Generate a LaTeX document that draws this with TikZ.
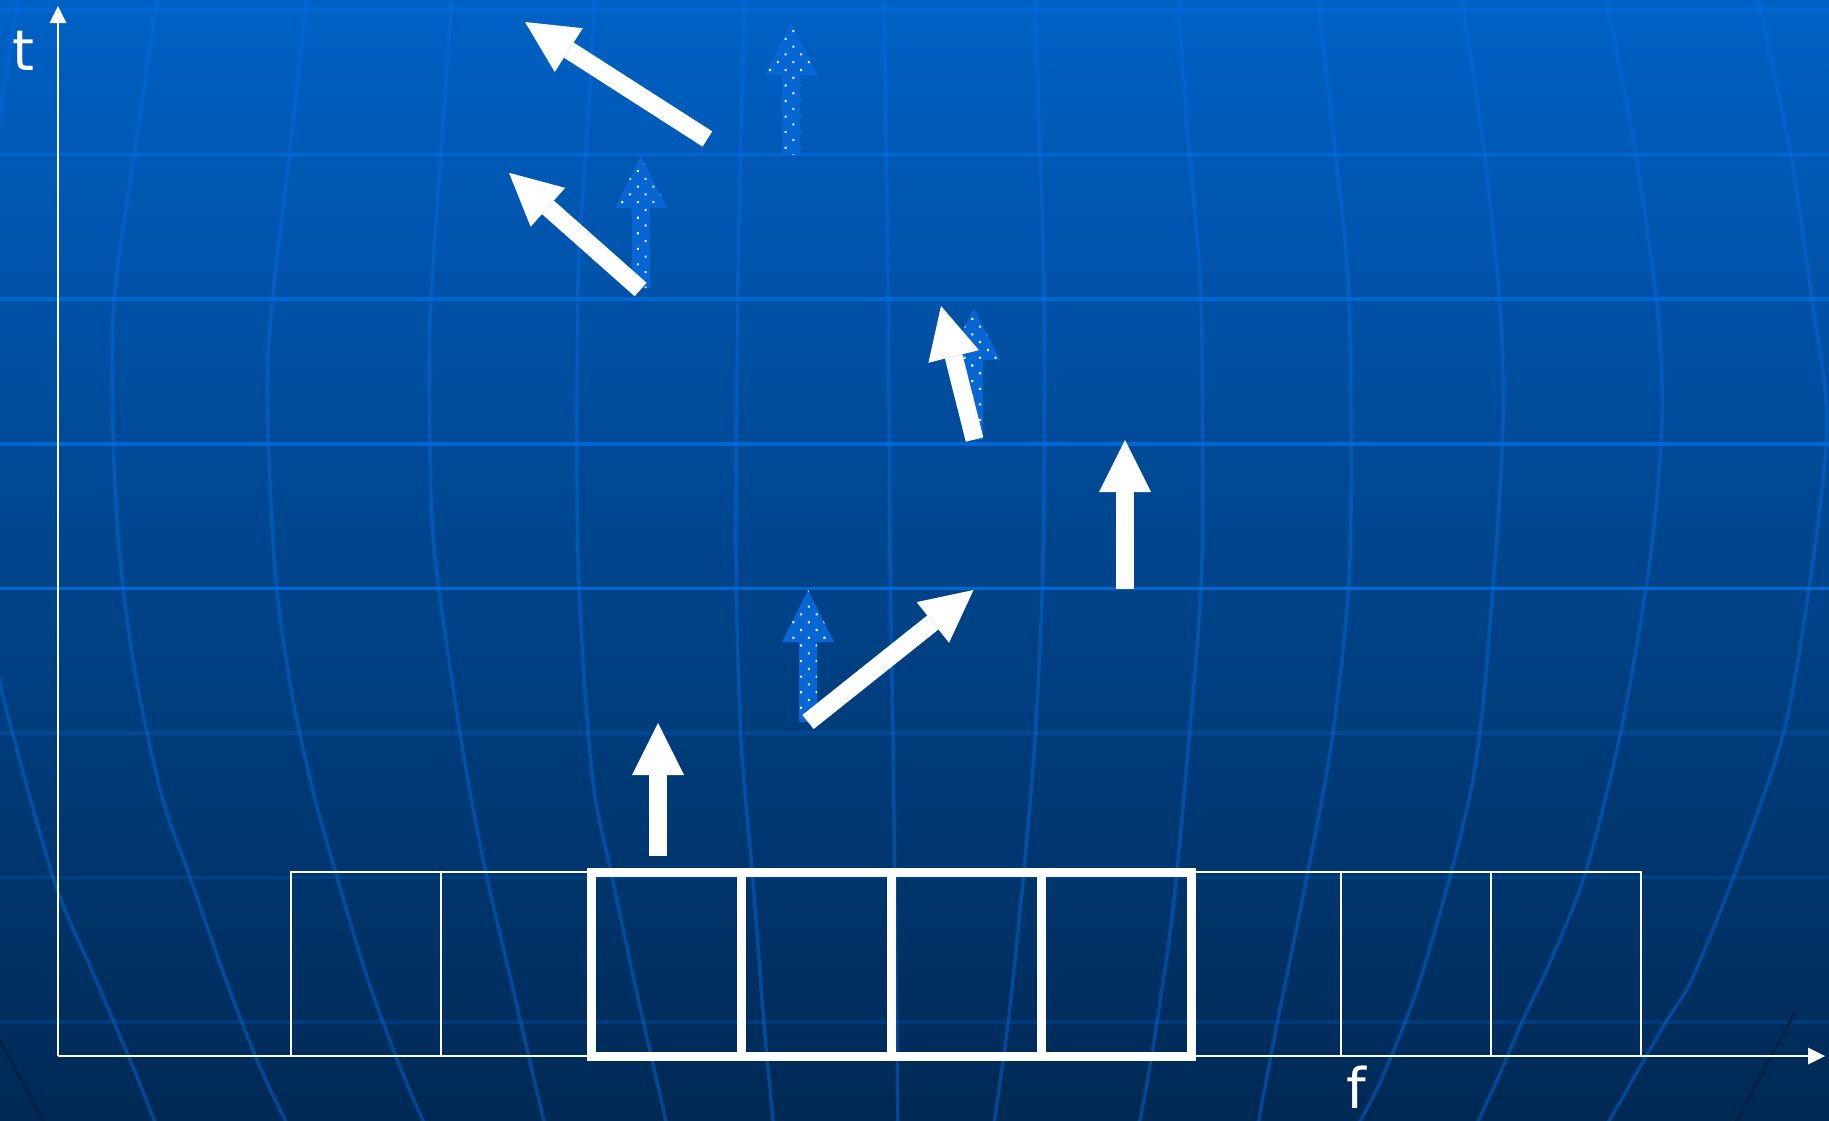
\documentclass[tikz,border=0pt]{standalone}
\usepackage{fontspec}
\setmainfont{DejaVu Sans}
\usetikzlibrary{arrows.meta, positioning, patterns.meta}
\definecolor{bgtop}{RGB}{0,97,197}
\definecolor{bgbottom}{RGB}{0,41,84}
\definecolor{gridbright}{RGB}{0,102,210}
\definecolor{gridglow}{RGB}{0,110,230}
\definecolor{shadowline}{RGB}{0,33,70}
\definecolor{ghostblue}{RGB}{8,102,212}
\definecolor{dotwhite}{RGB}{225,240,255}

\begin{document}
\begin{tikzpicture}[
    x=1pt, y=-1pt,
    hline/.style={draw=gridbright, line width=3.6pt},
    hlinedim/.style={draw=gridglow, draw opacity=0.2, line width=3.6pt},
    meridian/.style={draw=gridglow, draw opacity=0.45, line width=3.4pt},
    shade line/.style={draw=shadowline, line width=3pt},
    axis/.style={draw=white, line width=2.2pt, -{Triangle[length=17pt, width=17pt, line width=0pt]}},
    cell/.style={draw=white, line width=2.4pt, minimum width=150pt, minimum height=184pt, inner sep=0pt, outer sep=0pt},
    selcell/.style={cell, line width=9pt},
    vec/.style={draw=white, line width=18pt, -{Triangle[length=52pt, width=52pt, line width=0pt]}},
    ghostfill/.style={fill=ghostblue, postaction={pattern color=dotwhite, pattern={Dots[distance=11pt, radius=1.5pt, angle=45]}}},
    pics/ghost/.style={code={
        \fill[ghostfill] (-9,0) -- (-9,-80) -- (-26,-80) -- (0,-132) -- (26,-80) -- (9,-80) -- (9,0) -- cycle;
    }},
    lbl/.style={text=white, font=\fontsize{56}{60}\selectfont, inner sep=0pt}
]
    \useasboundingbox (0,0) rectangle (1829,1120);
    \clip (0,0) rectangle (1829,1120);

    % background
    \shade[top color=bgtop, bottom color=bgbottom] (0,0) rectangle (1829,1120);
    \foreach \k in {0,...,4}
        \draw[hline] (0,{10+144.6*\k}) -- (1829,{10+144.6*\k});
    \foreach \k in {5,6,7}
        \draw[hlinedim] (0,{10+144.6*\k}) -- (1829,{10+144.6*\k});

    \draw[meridian] plot[smooth] coordinates {(22,-10) (18,0) (-5,150) (-22,300) (-26,450) (-20,560) (0,683) (53,877) (93,973) (133,1067) (158,1130)};
    \draw[meridian] plot[smooth] coordinates {(159,-10) (157,0) (135,150) (114,300) (113,430) (120,560) (137,683) (163,800) (190,877) (227,983) (260,1067) (290,1130)};
    \draw[meridian] plot[smooth] coordinates {(307,-10) (306,0) (290,150) (268,357) (274,557) (290,683) (312,787) (337,877) (367,977) (400,1067) (427,1130)};
    \draw[meridian] plot[smooth] coordinates {(453,-10) (452,0) (441,150) (430,321) (430,450) (435,557) (461,739) (484,864) (513,989) (546,1130)};
    \draw[meridian] plot[smooth] coordinates {(596,-10) (595,0) (586,150) (578,286) (578,557) (592,774) (613,881) (636,989) (668,1130)};
    \draw[meridian] plot[smooth] coordinates {(744,-10) (744,0) (738,280) (736,557) (741,739) (753,881) (764,1024) (774,1130)};
    \draw[meridian] plot[smooth] coordinates {(884,-10) (884,0) (888,280) (890,557) (893,739) (898,1130)};
    \draw[meridian] plot[smooth] coordinates {(1034,-10) (1035,0) (1040,150) (1044,300) (1043,560) (1035,739) (1023,881) (1008,1024) (993,1130)};
    \draw[meridian] plot[smooth] coordinates {(1177,-10) (1178,0) (1189,150) (1201,300) (1202,560) (1189,739) (1172,917) (1151,1060) (1138,1130)};
    \draw[meridian] plot[smooth] coordinates {(1317,-10) (1318,0) (1335,150) (1349,300) (1350,560) (1332,739) (1306,881) (1277,1024) (1257,1130)};
    \draw[meridian] plot[smooth] coordinates {(1461,-10) (1462,0) (1484,150) (1500,306) (1503,421) (1495,560) (1474,774) (1423,971) (1382,1078) (1355,1130)};
    \draw[meridian] plot[smooth] coordinates {(1606,-10) (1607,0) (1635,150) (1657,306) (1662,421) (1650,560) (1621,731) (1586,871) (1551,960) (1523,1020) (1498,1078) (1474,1130)};
    \draw[meridian] plot[smooth] coordinates {(1757,-10) (1758,0) (1790,150) (1812,300) (1827,421) (1813,560) (1784,731) (1732,881) (1691,981) (1667,1020) (1644,1060) (1604,1130)};
    \draw[shade line] (-5,1031) -- (48,1130);
    \draw[shade line] (1795,1012) -- (1731,1132);

    % axes
    \coordinate (o) at (58,1056);
    \coordinate (fend) at (1825,1056);
    \coordinate (tend) at (58,6);
    \draw[axis] (o) -- (fend);
    \draw[axis] (o) -- (tend);
    \node[lbl, anchor=base] (tlab) at (23.5,70) {t};
    \node[lbl, anchor=base] (flab) at (1356,1108) {f};

    % subcarrier cells
    \node[cell] (c0) at (366,964) {};
    \node[cell, right=0pt of c0] (c1) {};
    \node[selcell, right=0pt of c1] (c2) {};
    \node[selcell, right=0pt of c2] (c3) {};
    \node[selcell, right=0pt of c3] (c4) {};
    \node[selcell, right=0pt of c4] (c5) {};
    \node[cell, right=0pt of c5] (c6) {};
    \node[cell, right=0pt of c6] (c7) {};
    \node[cell, right=0pt of c7] (c8) {};

    % reference phasors
    \pic at (791,155) {ghost};
    \pic at (641,288) {ghost};
    \pic at (974,440) {ghost};
    \pic at (808,722) {ghost};

    % rotated phasors
    \coordinate (w1s) at (658,856);      \coordinate (w1e) at (658,723);
    \coordinate (w2s) at (1125,589);     \coordinate (w2e) at (1125,440);
    \coordinate (w3s) at (808,722);      \coordinate (w3e) at (973.5,590);
    \coordinate (w4s) at (974.5,439.5);  \coordinate (w4e) at (941,306);
    \coordinate (w5s) at (640.6,289.5);  \coordinate (w5e) at (509,172.8);
    \coordinate (w6s) at (707.4,139);    \coordinate (w6e) at (525,22);
    \draw[vec] (w1s) -- (w1e);
    \draw[vec] (w2s) -- (w2e);
    \draw[vec] (w3s) -- (w3e);
    \draw[vec] (w4s) -- (w4e);
    \draw[vec] (w5s) -- (w5e);
    \draw[vec] (w6s) -- (w6e);
\end{tikzpicture}
\end{document}
